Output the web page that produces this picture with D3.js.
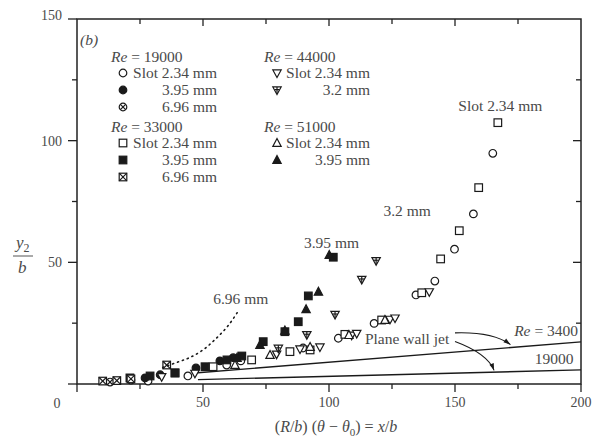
<!DOCTYPE html>
<html><head><meta charset="utf-8">
<script src="https://cdn.jsdelivr.net/npm/d3@7/dist/d3.min.js"></script>
<style>
body{margin:0;background:#fff;}
text{font-family:"Liberation Serif","DejaVu Serif",serif;fill:#4a4a4a;}
</style></head>
<body><svg id="c" width="596" height="438"></svg>
<script>
// ---- data (x/b, y2/b) ----
const re19000_slot234 = [[165.0,94.8],[157.3,69.9],[149.8,55.4],[142.0,42.3],[134.5,36.6],[117.9,24.9],[103.7,18.8],[89.7,14.8],[65.0,9.5],[59.4,7.8],[44.0,3.3],[28.2,1.2]];
const re19000_395 = [[47.2,6.6],[56.7,9.5],[27.0,2.5],[62.0,10.8],[33.0,3.8]];
const re19000_696 = [[13.1,0.8],[21.4,1.6]];
const re33000_slot234 = [[167.0,107.4],[159.4,80.7],[151.7,63.0],[144.3,51.4],[136.8,37.5],[120.9,26.3],[106.3,20.4],[92.5,14.0],[84.5,13.3],[69.3,9.9],[54.0,7.1],[38.9,4.5]];
const re33000_395 = [[101.7,52.1],[91.8,36.2],[87.8,25.6],[82.5,21.5],[73.9,17.4],[65.4,11.5],[59.5,9.9],[50.8,7.1],[38.9,4.6],[29.0,3.3],[21.0,2.5]];
const re33000_696 = [[10.2,1.2],[15.8,1.4],[35.6,7.8],[21.4,2.1]];
const re44000_slot234 = [[139.8,37.9],[124.2,26.6],[126.2,27.1],[109.0,20.1],[111.0,20.8],[96.4,15.2],[88.5,14.4],[79.2,12.3],[46.8,4.4],[33.6,3.0]];
const re44000_32 = [[118.7,50.7],[113.0,43.0],[102.4,28.6],[91.2,20.3],[79.9,14.7]];
const re51000_slot234 = [[92.5,15.2],[122.2,26.3],[107.9,20.1],[76.6,11.9],[62.7,7.8]];
const re51000_395 = [[100.1,53.0],[95.8,37.9],[90.9,30.7],[82.5,21.9],[72.6,16.0],[63.5,10.7]];
// plane wall jet correlations
const wallJetX = [48, 200];
const wallJet3400 = [4.6, 17.3];
const wallJet19000 = [1.8, 5.8];
// dotted 6.96 mm trend
const dottedX = [34, 40, 45, 50, 55, 60, 64];
const dottedY = [6.8, 9.0, 11.0, 14.0, 18.5, 24.0, 30.0];
const xTicks = [50, 100, 150, 200];
const yTicks = [50, 100, 150];

const svg = d3.select("#c");
const x = d3.scaleLinear().domain([0,200]).range([77,581]);
const y = d3.scaleLinear().domain([0,150]).range([384,19]);
const ink = "#1a1a1a";
const FS = 15.5;

// frame + axes
const g = svg.append("g");
g.append("rect").attr("x",x(0)).attr("y",y(150)).attr("width",x(200)-x(0)).attr("height",y(0)-y(150))
 .attr("fill","none").attr("stroke","#222").attr("stroke-width",1.5);
const minorX = d3.range(0,201,25), minorY = d3.range(0,151,25);
minorX.forEach(v=>{
  const maj = v%50===0;
  g.append("line").attr("x1",x(v)).attr("x2",x(v)).attr("y1",y(0)).attr("y2",y(0)+(maj?8:5)).attr("stroke","#222").attr("stroke-width",1.3);
  if(v>0&&v<200) g.append("line").attr("x1",x(v)).attr("x2",x(v)).attr("y1",y(150)).attr("y2",y(150)+(maj?7:5)).attr("stroke","#222").attr("stroke-width",1.3);
});
minorY.forEach(v=>{
  const maj = v%50===0;
  g.append("line").attr("y1",y(v)).attr("y2",y(v)).attr("x1",x(0)).attr("x2",x(0)-(maj?9:5)).attr("stroke","#222").attr("stroke-width",1.3);
  if(v>0&&v<150) g.append("line").attr("y1",y(v)).attr("y2",y(v)).attr("x1",x(200)).attr("x2",x(200)-(maj?8:5)).attr("stroke","#222").attr("stroke-width",1.3);
});
xTicks.forEach(v=>g.append("text").attr("x",x(v)).attr("y",y(0)+23).attr("text-anchor","middle").attr("font-size",14).text(v));
yTicks.forEach(v=>g.append("text").attr("x",x(0)-15).attr("y",y(v)+(v===150?1:5)).attr("text-anchor","end").attr("font-size",14).text(v));
g.append("text").attr("x",x(0)-20).attr("y",y(0)+24).attr("text-anchor","middle").attr("font-size",14).text("0");

// axis titles
const xt = g.append("text").attr("x",336).attr("y",432).attr("text-anchor","middle").attr("font-size",16);
xt.append("tspan").text("(");
xt.append("tspan").attr("font-style","italic").text("R");
xt.append("tspan").text("/");
xt.append("tspan").attr("font-style","italic").text("b");
xt.append("tspan").text(") (");
xt.append("tspan").attr("font-style","italic").text("θ");
xt.append("tspan").text(" − ");
xt.append("tspan").attr("font-style","italic").text("θ");
xt.append("tspan").attr("font-size",11).attr("dy",4).text("0");
xt.append("tspan").attr("dy",-4).text(") = ");
xt.append("tspan").attr("font-style","italic").text("x");
xt.append("tspan").text("/");
xt.append("tspan").attr("font-style","italic").text("b");
const yt = g.append("text").attr("x",16).attr("y",248).attr("font-size",17);
yt.append("tspan").attr("font-style","italic").text("y");
yt.append("tspan").attr("font-size",12).attr("dy",4).text("2");
g.append("line").attr("x1",13).attr("x2",33).attr("y1",256).attr("y2",256).attr("stroke","#555").attr("stroke-width",1);
g.append("text").attr("x",18).attr("y",273).attr("font-size",17).attr("font-style","italic").text("b");

// markers
function marker(sel, type, cx, cy){
  const s = 3.8, sw = 1.2;
  const grp = sel.append("g").attr("transform",`translate(${cx},${cy})`);
  const st = o=>o.attr("stroke",ink).attr("stroke-width",sw);
  if(type.startsWith("circle")){
    st(grp.append("circle").attr("r",s).attr("fill",type==="circleF"?ink:"#fff"));
    if(type==="circleX"){ const k=s*0.7;
      st(grp.append("line").attr("x1",-k).attr("y1",-k).attr("x2",k).attr("y2",k));
      st(grp.append("line").attr("x1",-k).attr("y1",k).attr("x2",k).attr("y2",-k)); }
  } else if(type.startsWith("square")){
    st(grp.append("rect").attr("x",-s).attr("y",-s).attr("width",2*s).attr("height",2*s).attr("fill",type==="squareF"?ink:"#fff"));
    if(type==="squareX"){
      st(grp.append("line").attr("x1",-s).attr("y1",-s).attr("x2",s).attr("y2",s));
      st(grp.append("line").attr("x1",-s).attr("y1",s).attr("x2",s).attr("y2",-s)); }
  } else if(type.startsWith("triD")){
    st(grp.append("path").attr("d",`M${-s*1.1},${-s*0.8}L${s*1.1},${-s*0.8}L0,${s*1.2}Z`).attr("fill","#fff"));
    if(type==="triDM"){
      st(grp.append("line").attr("x1",-s*0.6).attr("x2",s*0.6).attr("y1",-s*0.1).attr("y2",-s*0.1));
      st(grp.append("line").attr("x1",0).attr("x2",0).attr("y1",-s*0.8).attr("y2",s*1.0));
    }
  } else if(type.startsWith("triU")){
    st(grp.append("path").attr("d",`M${-s*1.1},${s*0.9}L${s*1.1},${s*0.9}L0,${-s*1.2}Z`).attr("fill",type==="triUF"?ink:"#fff"));
  }
}
const series = [
  [re19000_slot234,"circleO"],[re19000_395,"circleF"],[re19000_696,"circleX"],
  [re33000_slot234,"squareO"],[re33000_395,"squareF"],[re33000_696,"squareX"],
  [re44000_slot234,"triDO"],[re44000_32,"triDM"],
  [re51000_slot234,"triUO"],[re51000_395,"triUF"]
];
const mg = svg.append("g");
series.forEach(([d,t])=>d.forEach(p=>marker(mg,t,x(p[0]),y(p[1]))));

// wall jet lines
const line = d3.line().x(d=>x(d[0])).y(d=>y(d[1]));
[wallJet3400, wallJet19000].forEach(v=>{
  svg.append("path").attr("d",line(wallJetX.map((xx,i)=>[xx,v[i]]))).attr("fill","none").attr("stroke",ink).attr("stroke-width",1.4);
});
// dotted curve
svg.append("path").attr("d",d3.line().curve(d3.curveCatmullRom).x(d=>x(d[0])).y(d=>y(d[1]))(dottedX.map((xx,i)=>[xx,dottedY[i]])))
  .attr("fill","none").attr("stroke",ink).attr("stroke-width",1.6).attr("stroke-dasharray","1.2,4").attr("stroke-linecap","round");

// annotations
function ann(tx,ty,str,anchor){ return svg.append("text").attr("x",x(tx)).attr("y",y(ty)).attr("font-size",FS).attr("text-anchor",anchor||"middle").text(str); }
ann(168,112,"Slot 2.34 mm");
ann(131,69,"3.2 mm");
ann(101,56,"3.95 mm");
ann(65,33,"6.96 mm");
ann(131,16.5,"Plane wall jet");
const r3 = svg.append("text").attr("x",x(200)-3).attr("y",y(19.6)).attr("font-size",FS).attr("text-anchor","end");
r3.append("tspan").attr("font-style","italic").text("Re");
r3.append("tspan").text(" = 3400");
ann(197,8.2,"19000","end");
// arrows
function arrow(p0,pc,p1){
  const P0=[x(p0[0]),y(p0[1])], C=[x(pc[0]),y(pc[1])], P1=[x(p1[0]),y(p1[1])];
  svg.append("path").attr("d",`M${P0}Q${C} ${P1}`).attr("fill","none").attr("stroke",ink).attr("stroke-width",1.1);
  const ang = Math.atan2(P1[1]-C[1],P1[0]-C[0]);
  const L=7,W=2.3;
  const bx=P1[0]-L*Math.cos(ang), by=P1[1]-L*Math.sin(ang);
  svg.append("path").attr("d",`M${P1}L${bx-W*Math.sin(ang)},${by+W*Math.cos(ang)}L${bx+W*Math.sin(ang)},${by-W*Math.cos(ang)}Z`).attr("fill",ink);
}
arrow([150,21],[165,21.5],[172,16.2]);
arrow([150,17.5],[163,12.5],[165.5,5.6]);

// legend
svg.append("text").attr("x",80).attr("y",45).attr("font-size",15.5).attr("font-style","italic").text("(b)");
function reText(xx,yy,val){
  const t = svg.append("text").attr("x",xx).attr("y",yy).attr("font-size",FS);
  t.append("tspan").attr("font-style","italic").text("Re");
  t.append("tspan").text(" = "+val);
}
reText(111,62,"19000"); reText(111,132,"33000");
reText(264,62,"44000"); reText(264,132,"51000");
const legendLeft = [["circleO","Slot 2.34 mm",73],["circleF","3.95 mm",90],["circleX","6.96 mm",107],
  ["squareO","Slot 2.34 mm",143],["squareF","3.95 mm",160],["squareX","6.96 mm",177]];
legendLeft.forEach(([t,s,yy])=>{ marker(svg,t,123,yy); svg.append("text").attr("x",217).attr("y",yy+5).attr("font-size",FS).attr("text-anchor","end").text(s); });
const legendRight = [["triDO","Slot 2.34 mm",73],["triDM","3.2 mm",90],["triUO","Slot 2.34 mm",143],["triUF","3.95 mm",160]];
legendRight.forEach(([t,s,yy])=>{ marker(svg,t,277,yy); svg.append("text").attr("x",370).attr("y",yy+5).attr("font-size",FS).attr("text-anchor","end").text(s); });
</script></body></html>
